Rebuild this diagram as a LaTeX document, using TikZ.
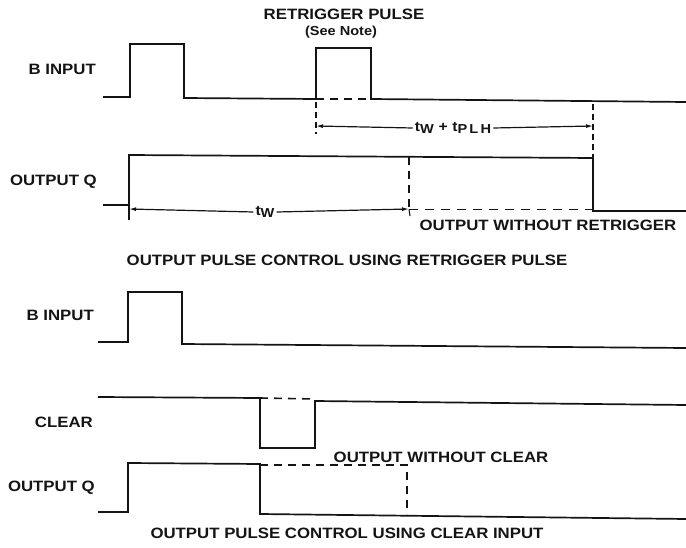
\documentclass[tikz,border=0pt]{standalone}
\usepackage{fontspec}
\newfontfamily\lblfont{Liberation Sans}[FakeStretch=1.12]
\usetikzlibrary{arrows.meta}
\definecolor{ink}{RGB}{20,20,20}
\tikzset{
  wave/.style={line width=1.7pt, line join=miter, draw=ink},
  ghost/.style={line width=1.6pt, dash pattern=on 8pt off 6pt, draw=ink},
  thinghost/.style={line width=1.2pt, dash pattern=on 6pt off 4pt, draw=ink},
  dim/.style={line width=1.2pt, draw=ink, -{Latex[length=7pt,width=4pt]}},
  lbl/.style={font=\lblfont\bfseries\fontsize{15}{18}\selectfont, inner sep=0pt, text=ink},
  small/.style={font=\lblfont\bfseries\fontsize{13}{15}\selectfont, inner sep=0pt, text=ink},
  tlbl/.style={font=\lblfont\bfseries\fontsize{14}{16}\selectfont, inner sep=2pt, fill=white, text=ink},
}
\newcommand{\subW}[1]{\raisebox{-2.5pt}{\fontsize{13}{14}\selectfont #1}}
\begin{document}
\begin{tikzpicture}[x=1pt,y=-1pt]
\useasboundingbox (0,0) rectangle (686,548);

% ---------- top section ----------
\node[lbl] (retrig) at (344,14) {RETRIGGER PULSE};
\node[small] (note) at (341,32) {(See Note)};
\node[lbl, anchor=east] (bin1) at (96,69) {B INPUT};
\node[lbl, anchor=east] (outq1) at (97,182) {OUTPUT Q};

% B input waveform
\draw[wave] (103,97) -- (130,97) -- (130,44) -- (184,44) -- (184,98) -- (316,99)
  -- (316,48) -- (371,48) -- (371,99) -- (686,102);
\draw[ghost] (316,99) -- (371,99);

% extension lines
\coordinate (e1t) at (316,102);
\coordinate (e1b) at (316,134);
\coordinate (e2t) at (593,104);
\coordinate (e2b) at (593,157);
\draw[thinghost] (e1t) -- (e1b);
\draw[thinghost] (e2t) -- (e2b);

% tw + tPLH dimension
\node[tlbl] (twplh) at (453,128) {t\subW{W}\,\,+\,\,t\subW{P\,L\,H}};
\coordinate (d1l) at (316,126);
\coordinate (d1r) at (593,126);
\draw[dim] (twplh.west) -- (d1l);
\draw[dim] (twplh.east) -- (d1r);

% Output Q waveform
\draw[wave] (103,205) -- (129,205) -- (129,155) -- (593,158) -- (593,211) -- (686,211);
\coordinate (g1) at (409,157);
\coordinate (g2) at (409,209.5);
\coordinate (g3) at (593,209.5);
\draw[ghost] (g1) -- (g2);
\draw[ghost, dash pattern=on 9pt off 7pt] (g2) -- (g3);
\coordinate (tk1t) at (129,205);
\coordinate (tk1b) at (129,220);
\draw[line width=1.1pt, draw=ink] (tk1t) -- (tk1b);
\coordinate (tk2b) at (410,216);
\draw[line width=1.1pt, draw=ink] (g2) -- (tk2b);

% tw dimension
\node[tlbl] (tw) at (265,212) {t\subW{W}};
\coordinate (d2l) at (129,209);
\coordinate (d2r) at (409,209);
\draw[dim] (tw.west) -- (d2l);
\draw[dim] (tw.east) -- (d2r);

\node[lbl] (owr) at (548,225) {OUTPUT WITHOUT RETRIGGER};
\node[lbl] (cap1) at (347,260) {OUTPUT PULSE CONTROL USING RETRIGGER PULSE};

% ---------- bottom section ----------
\node[lbl, anchor=east] (bin2) at (94,315) {B INPUT};
\node[lbl, anchor=east] (clr) at (93,422) {CLEAR};
\node[lbl, anchor=east] (outq2) at (95,488) {OUTPUT Q};

\draw[wave] (98,342) -- (128,342) -- (128,292) -- (182,292) -- (182,344) -- (686,348);

\draw[wave] (98,397) -- (260,398) -- (260,448) -- (315,448) -- (315,401) -- (686,405);
\draw[ghost] (260,398) -- (315,399);

\node[lbl] (owc) at (441,457) {OUTPUT WITHOUT CLEAR};

\draw[wave] (98,512) -- (128,512) -- (128,463) -- (260,464) -- (260,514) -- (686,519);
\draw[ghost] (260,465) -- (407,465) -- (407,514);

\node[lbl] (cap2) at (347,533) {OUTPUT PULSE CONTROL USING CLEAR INPUT};
\end{tikzpicture}
\end{document}
